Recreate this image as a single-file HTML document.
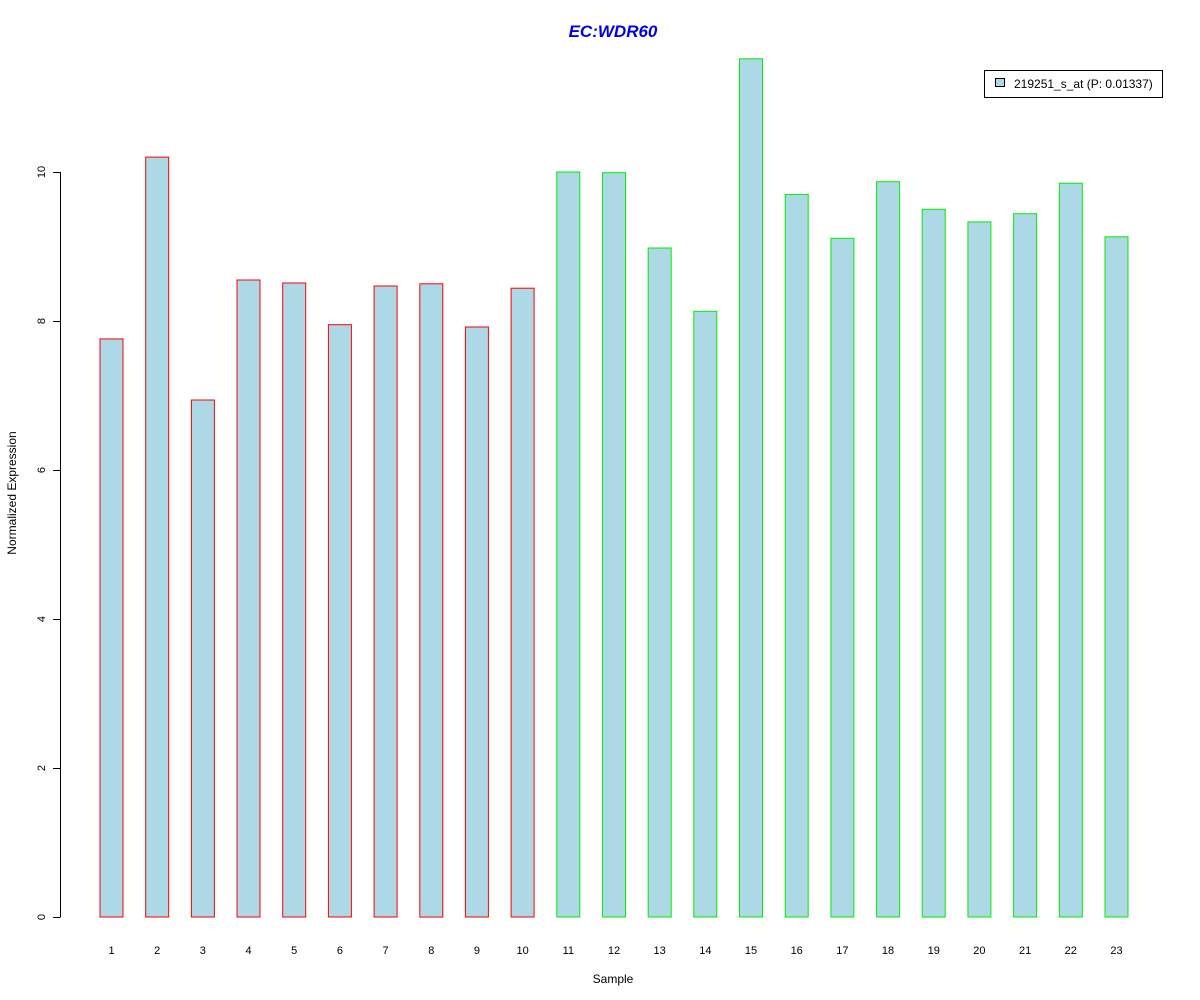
<!DOCTYPE html>
<html><head><meta charset="utf-8"><style>
html,body{margin:0;padding:0;background:#fff;}
svg{display:block;font-family:"Liberation Sans",Arial,sans-serif;}
</style></head><body>
<svg id="chart" width="1200" height="1000" viewBox="0 0 1200 1000">
<text x="613" y="37" text-anchor="middle" font-size="17" font-weight="bold" font-style="italic" fill="#0000ee">EC:WDR60</text>
<text transform="translate(16,493) rotate(-90)" text-anchor="middle" font-size="12">Normalized Expression</text>
<text x="613" y="983" text-anchor="middle" font-size="12">Sample</text>
<g id="bars"></g>
<g id="yaxis"></g>
<g id="xlabels"></g>
<g>
<rect x="984.5" y="70.5" width="178" height="27" fill="#fff" stroke="#000"/>
<rect x="995.5" y="78.5" width="9" height="8" fill="#add8e6" stroke="#000"/>
<text x="1014" y="88" font-size="12">219251_s_at (P: 0.01337)</text>
</g>
</svg>
<script>
const categories = ["1","2","3","4","5","6","7","8","9","10","11","12","13","14","15","16","17","18","19","20","21","22","23"];
const values = [7.76,10.2,6.94,8.55,8.51,7.95,8.47,8.5,7.92,8.44,10.0,9.99,8.98,8.13,11.52,9.7,9.11,9.87,9.5,9.33,9.44,9.85,9.13];
const groups = ["red","red","red","red","red","red","red","red","red","red","green","green","green","green","green","green","green","green","green","green","green","green","green"];
const yTicks = [0,2,4,6,8,10];
const NS="http://www.w3.org/2000/svg";
function y(v){return 917-v*74.5;}
function xc(i){return 111.5+i*45.68;}
const bars=document.getElementById('bars');
values.forEach((v,i)=>{
  const r=document.createElementNS(NS,'rect');
  r.setAttribute('x',(xc(i)-11.5).toFixed(1));
  r.setAttribute('y',y(v).toFixed(1));
  r.setAttribute('width',23);
  r.setAttribute('height',(y(0)-y(v)).toFixed(1));
  r.setAttribute('fill','#add8e6');
  r.setAttribute('stroke',groups[i]==='red'?'#ff0000':'#00ee00');
  
  
  bars.appendChild(r);
  const t=document.createElementNS(NS,'text');
  t.setAttribute('x',xc(i));t.setAttribute('y',954);
  t.setAttribute('text-anchor','middle');t.setAttribute('font-size','11');
  t.textContent=categories[i];
  
  
  document.getElementById('xlabels').appendChild(t);
});
const ya=document.getElementById('yaxis');
const ln=document.createElementNS(NS,'line');
ln.setAttribute('x1',60.5);ln.setAttribute('x2',60.5);
ln.setAttribute('y1',y(0));ln.setAttribute('y2',y(10));ln.setAttribute('stroke','#000');


ya.appendChild(ln);
yTicks.forEach(v=>{
  const tk=document.createElementNS(NS,'line');
  tk.setAttribute('x1',53);tk.setAttribute('x2',60.5);
  tk.setAttribute('y1',y(v)+0.5);tk.setAttribute('y2',y(v)+0.5);tk.setAttribute('stroke','#000');
  
  
  ya.appendChild(tk);
  const t=document.createElementNS(NS,'text');
  t.setAttribute('transform','translate(45,'+y(v)+') rotate(-90)');
  t.setAttribute('text-anchor','middle');t.setAttribute('font-size','11');
  t.textContent=v;
  
  
  ya.appendChild(t);
});
</script>
</body></html>
